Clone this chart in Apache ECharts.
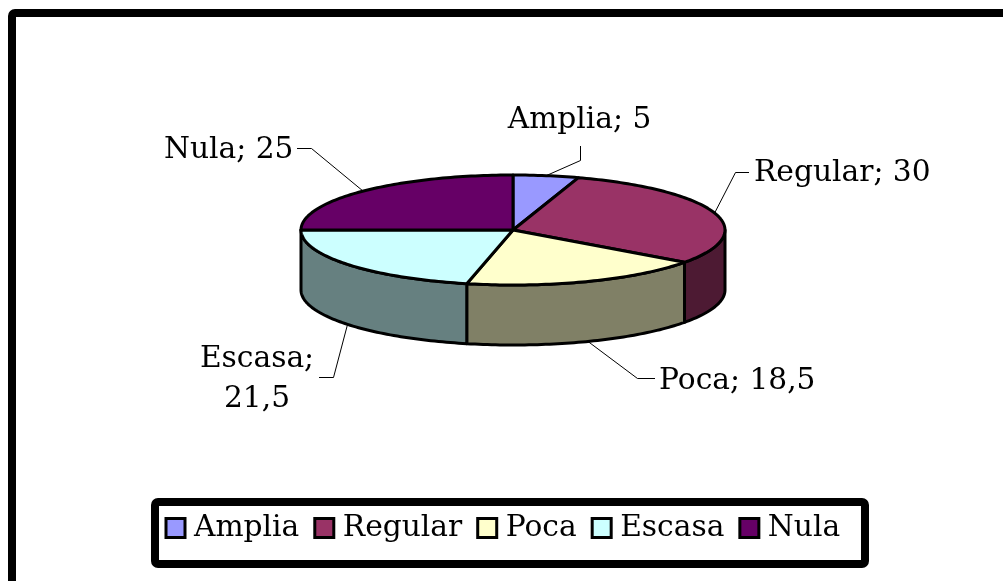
<!DOCTYPE html>
<html><head><meta charset="utf-8">
<style>html,body{margin:0;padding:0;background:#fff}#c{width:1003px;height:581px}</style>
<script src="https://cdn.jsdelivr.net/npm/echarts@6/dist/echarts.min.js"></script>
</head><body><div id="c"></div>
<script>
const categories = ['Amplia', 'Regular', 'Poca', 'Escasa', 'Nula'];
const values = [5, 30, 18.5, 21.5, 25];
const topColors = ['#9999ff', '#993366', '#ffffcc', '#ccffff', '#660066'];
const wallColors = ['#4d4d80', '#4d1a33', '#808066', '#668080', '#330033'];

// label placement (pixels): elbow, end of leader, text anchor
const labelLayout = [
  {elbow:[580.5,160.5], end:[580.5,146], text:[579.5,120], align:'center'},
  {elbow:[735.5,172.5], end:[749,172.5], text:[754,173], align:'left'},
  {elbow:[637.5,378.5], end:[655,378.5], text:[659,381], align:'left'},
  {elbow:[333.5,377.5], end:[319,377.5], text:[257,379], align:'center', wrap:true},
  {elbow:[311.5,148.5], end:[297,148.5], text:[164,150], align:'left'}
];
const FONT = '"DejaVu Serif"';
const FS = 29.7;
const CX = 513, CY = 230, RX = 212, RY = 55, H = 60;

const total = values.reduce((a, b) => a + b, 0);
const starts = [];
values.reduce((acc, v, i) => { starts[i] = acc; return acc + v; }, 0);
const ang = v => v / total * 2 * Math.PI;
const rim = (a, dy) => [CX + RX * Math.sin(a), CY - RY * Math.cos(a) + (dy || 0)];
function arc(a0, a1, dy) {
  const n = Math.max(2, Math.ceil((a1 - a0) / 0.02)), p = [];
  for (let k = 0; k <= n; k++) p.push(rim(a0 + (a1 - a0) * k / n, dy));
  return p;
}
const fmt = v => String(v).replace('.', ',');
const stroke = {stroke:'#000', lineWidth:3, lineJoin:'round'};

const series = [];
series.push({
  type:'custom', name:'walls', coordinateSystem:'none', z:2, silent:true,
  data: values.map((v, i) => i),
  renderItem(p, api) {
    const i = api.value(0);
    const a0 = Math.max(ang(starts[i]), Math.PI / 2);
    const a1 = Math.min(ang(starts[i] + values[i]), Math.PI * 1.5);
    if (a1 <= a0) return {type:'group', children:[]};
    return {type:'polygon',
      shape:{points: arc(a0, a1, 0).concat(arc(a0, a1, H).reverse())},
      style:Object.assign({fill:wallColors[i]}, stroke)};
  }
});
categories.forEach((name, i) => {
  series.push({
    type:'custom', name, coordinateSystem:'none', z:3, silent:true,
    itemStyle:{color:topColors[i], borderColor:'#000', borderWidth:3},
    data:[values[i]],
    renderItem() {
      const a0 = ang(starts[i]), a1 = ang(starts[i] + values[i]);
      return {type:'polygon',
        shape:{points:[[CX, CY]].concat(arc(a0, a1, 0))},
        style:Object.assign({fill:topColors[i]}, stroke)};
    }
  });
});
series.push({
  type:'custom', name:'labels', coordinateSystem:'none', z:4, silent:true,
  data: values.map((v, i) => i),
  renderItem(p, api) {
    const i = api.value(0), L = labelLayout[i];
    const mid = ang(starts[i] + values[i] / 2);
    const front = Math.cos(mid) < 0;
    const start = rim(mid, front ? H : 0);
    const sep = L.wrap ? ';\n' : '; ';
    return {type:'group', children:[
      {type:'polyline', shape:{points:[start, L.elbow, L.end]},
       style:{stroke:'#000', lineWidth:1, fill:null}},
      {type:'text', x:L.text[0], y:L.text[1],
       style:{text:categories[i] + sep + fmt(values[i]), fill:'#000',
         font:FS + 'px ' + FONT, align:L.align, verticalAlign:'middle', lineHeight:40}}
    ]};
  }
});

const chart = echarts.init(document.getElementById('c'), null, {renderer:'canvas'});
chart.setOption({
  animation:false,
  backgroundColor:'#fff',
  graphic:[
    {type:'rect', z:0, shape:{x:12, y:13, width:1003, height:600, r:3},
     style:{fill:'#fff', stroke:'#000', lineWidth:8}},
    {type:'rect', z:0, shape:{x:155, y:502, width:710, height:62, r:3},
     style:{fill:'#fff', stroke:'#000', lineWidth:8}}
  ],
  legend:{
    data:categories, left:164.5, top:513, orient:'horizontal',
    padding:0, itemWidth:19, itemHeight:19, itemGap:14, selectedMode:false,
    icon:'rect', z:5,
    itemStyle:{borderColor:'#000', borderWidth:3},
    textStyle:{fontFamily:FONT, fontSize:FS, color:'#000', padding:[0,0,0,4]}
  },
  series
});
</script></body></html>
